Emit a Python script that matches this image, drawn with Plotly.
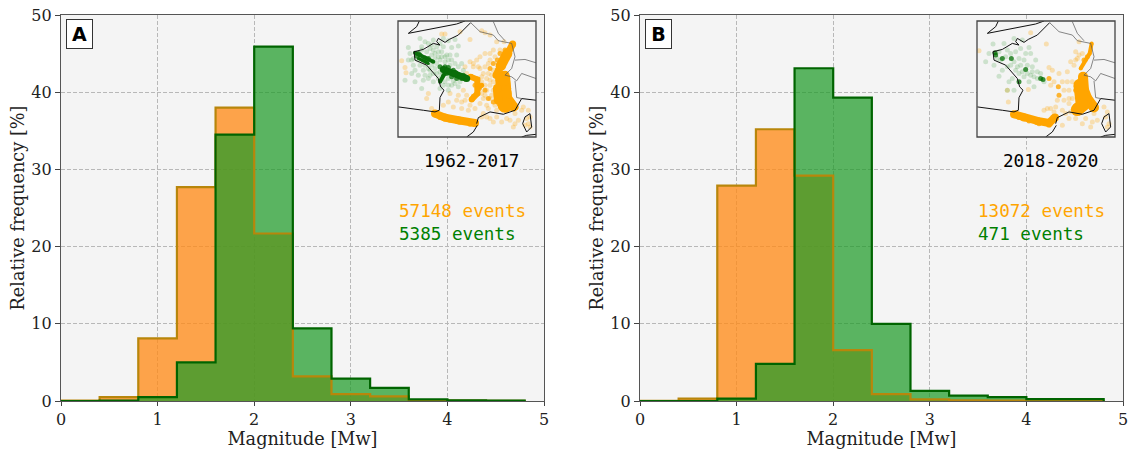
import plotly.graph_objects as go

W, H = 1130, 451
bin_edges = [0, 0.4, 0.8, 1.2, 1.6, 2.0, 2.4, 2.8, 3.2, 3.6, 4.0, 4.4, 4.8]
a_orange = [0.05, 0.5, 8.1, 27.7, 38.0, 21.7, 3.2, 0.9, 0.6, 0.1, 0.05, 0.02]
a_green = [0.0, 0.05, 0.5, 5.0, 34.5, 45.9, 9.4, 2.9, 1.7, 0.2, 0.1, 0.05]
b_orange = [0.02, 0.3, 27.9, 35.2, 29.2, 6.6, 0.9, 0.2, 0.1, 0.05, 0.02, 0.01]
b_green = [0.0, 0.0, 0.3, 4.8, 43.1, 39.3, 10.0, 1.3, 0.7, 0.5, 0.25, 0.25]
x_ticks = [0, 1, 2, 3, 4, 5]
y_ticks = [0, 10, 20, 30, 40, 50]
panel_labels = ["A", "B"]
periods = ["1962-2017", "2018-2020"]
orange_counts = ["57148 events", "13072 events"]
green_counts = ["5385 events", "471 events"]

coast = [
    [(88, 33), (80, 50), (55, 70), (75, 66), (110, 58), (150, 50), (200, 42), (225, 33)],
    [(242, 38), (218, 60), (205, 75), (178, 88), (165, 97), (145, 85), (140, 95), (150, 105), (130, 100),
     (100, 118), (72, 125), (75, 150), (110, 165), (145, 205), (152, 230), (162, 240), (150, 262), (148, 300), (135, 305),
     (100, 300), (60, 295), (25, 290)],
    [(260, 340), (265, 322), (300, 305), (340, 312), (375, 300), (395, 265), (438, 270)],
    [(262, 345), (250, 365), (230, 380)],
    [(405, 320), (420, 310), (425, 350), (410, 365), (398, 340), (405, 320)],
    [(395, 380), (410, 375), (438, 372)],
]
borders = [
    [(242, 38), (270, 65), (310, 75), (325, 92), (365, 100), (375, 140), (365, 175), (345, 195)],
    [(375, 150), (405, 148), (438, 158)],
    [(345, 195), (365, 200), (380, 212), (395, 190), (438, 205)],
    [(310, 35), (325, 70), (345, 92)],
    [(375, 212), (380, 262), (395, 265)],
]
# thick bands of overlapping epicentres: (width, points)
a_bands = [
    (8, [(135,310),(165,322),(205,330),(255,338)]),
    (9, [(345,195),(350,235),(352,262),(372,290)]),
    (15, [(338,205),(342,250),(345,285)]),
    (9, [(322,235),(325,270)]),
    (7, [(368,102),(355,125),(340,150),(325,180),(318,195)]),
    (10, [(352,130),(332,168)]),
    (6, [(242,200),(262,208),(262,250),(245,268)]),
    (5, [(275,225),(262,235)]),
]
b_bands = [
    (8, [(135,312),(165,322),(205,332),(240,338),(258,322)]),
    (10, [(342,200),(345,240),(355,265),(375,292)]),
    (13, [(333,225),(340,285),(325,298)]),
    (4, [(368,100),(362,130),(350,150),(335,175)]),
]
a_green_bands = [
    (4, [(75,128),(105,142),(130,155)]),
    (3, [(85,145),(115,160)]),
    (7, [(160,178),(195,190),(230,205)]),
    (4, [(150,215),(160,195),(170,180)]),
]
b_green_bands = []
a_orange_dense = [(150,322),(180,330),(210,336),(240,342),(360,285),(378,292),(365,295),(350,300),(320,200),(332,230),(325,262),(335,275),(300,175),(310,160),(322,150),(255,225),(268,235),(250,258),(285,240),(295,265),(310,275),(330,130),(345,120)]
a_orange_light = [(35,152),(45,172),(48,188),(155,72),(165,72),(210,65),(240,88),(275,62),(285,68),(300,75),(320,95),(342,95),(285,130),(310,120),(330,120),(240,155),(250,160),(260,150),(285,170),(270,175),(300,150),(295,190),(300,210),(290,240),(310,240),(300,265),(280,265),(290,285),(315,285),(220,240),(225,270),(205,255),(180,250),(175,275),(190,290),(215,295),(235,300),(255,295),(115,250),(110,265),(125,295),(160,285),(280,310),(300,325),(320,320),(350,325),(375,310),(385,330),(370,350),(400,290),(415,300),(415,340),(420,350),(410,325),(275,200),(310,215),(270,280),(250,170),(280,190),(290,205),(305,195),(275,215),(285,225),(300,225),(320,225),(305,255),(285,255),(275,250),(295,295),(320,300),(240,285),(230,255),(215,275),(200,270),(275,320),(290,320),(310,335),(335,335),(360,330),(375,340),(395,300),(420,320),(405,345),(265,170),(300,130),(315,140),(270,140),(225,170),(230,190),(295,160),(310,180)]
a_green_dense = [(85,130),(80,138),(90,135),(115,145),(100,150),(110,155),(150,170),(170,190),(205,195),(220,195),(190,180),(175,172),(215,205),(225,200),(165,170),(200,205),(185,200)]
a_green_light = [(90,85),(105,95),(130,90),(160,85),(175,92),(195,88),(185,112),(205,108),(55,112),(60,130),(55,150),(70,165),(45,210),(75,215),(95,235),(120,180),(100,180),(115,205),(135,130),(155,125),(170,135),(185,150),(200,135),(215,160),(165,155),(140,190),(130,215),(160,225),(185,225),(205,230),(175,205),(190,212),(145,140),(120,115),(140,110),(85,195),(90,165),(110,125),(150,150),(175,240),(65,190),(125,165),(95,110),(115,100),(150,100),(160,110),(125,135),(140,160),(155,195),(135,175),(105,195),(120,195),(165,215),(195,160),(180,165),(105,165),(85,150),(70,145),(150,235),(210,215),(165,140),(130,120),(135,145),(145,125),(155,140),(180,135),(175,150),(150,185),(130,190),(115,175),(100,210),(145,205),(175,225),(195,220),(220,180),(205,170),(75,180),(65,150),(95,120),(125,105)]
b_orange_dense = [(150,322),(180,332),(210,340),(240,345),(345,285),(378,292),(325,295),(240,205),(268,230),(270,255),(345,150),(355,140),(320,240),(330,215)]
b_orange_light = [(30,122),(185,68),(232,102),(330,95),(320,125),(305,155),(330,135),(240,172),(270,190),(295,185),(320,150),(310,215),(285,240),(300,265),(265,270),(245,295),(255,305),(178,238),(115,240),(118,275),(290,310),(300,325),(320,325),(350,325),(375,310),(385,330),(370,335),(405,290),(415,305),(420,340),(415,350),(280,345),(300,280),(235,295),(340,130),(325,145),(315,165),(250,180),(255,215),(280,215),(300,240),(285,270),(310,265),(260,290),(280,300),(305,305),(225,300),(250,320),(340,340),(365,350),(410,320),(245,225),(295,215)]
b_green_dense = [(78,128),(100,145),(127,145),(170,178),(215,205),(150,215),(80,135),(222,208)]
b_green_light = [(72,102),(105,100),(135,85),(160,90),(180,112),(185,130),(170,130),(140,125),(115,120),(90,125),(60,130),(50,155),(75,165),(90,198),(115,170),(100,180),(125,165),(140,180),(155,165),(190,185),(205,185),(200,150),(120,215),(135,240),(115,240),(180,215),(195,230),(165,200),(185,195),(150,190),(130,205),(215,190),(225,215),(190,170),(85,145),(95,150),(110,140),(135,155),(150,145),(165,150),(175,165),(145,170),(160,185),(175,190),(205,205),(195,200),(125,130),(155,115)]

panels = [
    dict(x0=61, label=panel_labels[0], period=periods[0], oc=orange_counts[0], gc=green_counts[0],
         orange=a_orange, green=a_green, od=a_orange_dense, ol=a_orange_light, gd=a_green_dense, gl=a_green_light,
         bands=a_bands, gbands=a_green_bands),
    dict(x0=640, label=panel_labels[1], period=periods[1], oc=orange_counts[1], gc=green_counts[1],
         orange=b_orange, green=b_green, od=b_orange_dense, ol=b_orange_light, gd=b_green_dense, gl=b_green_light,
         bands=b_bands, gbands=b_green_bands),
]

fig = go.Figure()
layout = dict(
    width=W, height=H, margin=dict(l=0, r=0, t=0, b=0), autosize=False, showlegend=False,
    paper_bgcolor="white", plot_bgcolor="#f4f4f4", font=dict(family="DejaVu Serif", color="#222", size=16),
    shapes=[], annotations=[],
)
MONO = "DejaVu Sans Mono"


def px(x):
    return x / W


def py(y):
    return 1 - y / H


for i, p in enumerate(panels):
    n = 2 * i + 1
    m = 2 * i + 2
    xa, ya = (f"x{n}" if n > 1 else "x"), (f"y{n}" if n > 1 else "y")
    xb, yb = f"x{m}", f"y{m}"
    for vals, fill in [(p["orange"], "rgba(255,140,25,0.78)"), (p["green"], "rgba(30,155,40,0.72)")]:
        fig.add_trace(go.Scatter(x=bin_edges, y=vals + [0], mode="none", line=dict(shape="hv"),
                                 fill="tozeroy", fillcolor=fill, xaxis=xa, yaxis=ya, hoverinfo="skip"))
    for vals, edge in [(p["orange"], "#b8860b"), (p["green"], "#006400")]:
        fig.add_trace(go.Scatter(x=[0] + bin_edges, y=[0] + vals + [0], mode="lines",
                                 line=dict(shape="hv", color=edge, width=2.2), xaxis=xa, yaxis=ya, hoverinfo="skip"))
    layout[f"xaxis{n if n > 1 else ''}"] = dict(
        domain=[px(p["x0"]), px(p["x0"] + 483)], range=[0, 5], tickvals=x_ticks, anchor=ya, automargin=False,
        showline=True, linecolor="#555", linewidth=1.3, mirror=True, ticks="outside", ticklen=4, tickcolor="#444",
        showgrid=True, gridcolor="#b8b8b8", griddash="4px,2px", gridwidth=1, zeroline=False,
        title=dict(text="Magnitude [Mw]", font=dict(size=17.7), standoff=3), tickfont=dict(size=16))
    layout[f"yaxis{n if n > 1 else ''}"] = dict(
        domain=[py(401), py(15)], range=[0, 50], tickvals=y_ticks, anchor=xa, automargin=False,
        showline=True, linecolor="#555", linewidth=1.3, mirror=True, ticks="outside", ticklen=5, tickcolor="#444",
        showgrid=True, gridcolor="#b8b8b8", griddash="4px,2px", gridwidth=1, zeroline=False,
        title=dict(text="Relative frequency [%]", font=dict(size=17.7), standoff=2), tickfont=dict(size=16))
    ix0 = p["x0"] + 337
    layout[f"xaxis{m}"] = dict(domain=[px(ix0), px(ix0 + 138)], range=[24, 438], anchor=yb, visible=False)
    layout[f"yaxis{m}"] = dict(domain=[py(137), py(21)], range=[380, 33], anchor=xb, visible=False)
    layout["shapes"].append(dict(type="rect", xref=f"{xb} domain", yref=f"{yb} domain", x0=0, x1=1, y0=0, y1=1,
                                 fillcolor="white", line=dict(width=0), layer="below"))
    for pts, col, size in [(p["ol"], "rgba(255,165,0,0.28)", 5), (p["od"], "rgba(255,165,0,0.8)", 5)]:
        fig.add_trace(go.Scatter(x=[q[0] for q in pts], y=[q[1] for q in pts], mode="markers",
                                 marker=dict(size=size, color=col, line=dict(width=0)), xaxis=xb, yaxis=yb, hoverinfo="skip"))
    for width, seg in p["bands"]:
        fig.add_trace(go.Scatter(x=[q[0] for q in seg], y=[q[1] for q in seg], mode="lines+markers",
                                 line=dict(color="orange", width=width), marker=dict(size=width, color="orange"),
                                 xaxis=xb, yaxis=yb, hoverinfo="skip"))
    for pts, col, size in [(p["gl"], "rgba(0,128,0,0.16)", 5), (p["gd"], "rgba(0,110,0,0.75)", 5)]:
        fig.add_trace(go.Scatter(x=[q[0] for q in pts], y=[q[1] for q in pts], mode="markers",
                                 marker=dict(size=size, color=col, line=dict(width=0)), xaxis=xb, yaxis=yb, hoverinfo="skip"))
    for width, seg in p["gbands"]:
        fig.add_trace(go.Scatter(x=[q[0] for q in seg], y=[q[1] for q in seg], mode="lines+markers",
                                 line=dict(color="#0a6e0a", width=width), marker=dict(size=width, color="#0a6e0a"),
                                 xaxis=xb, yaxis=yb, hoverinfo="skip"))
    for group, col, w in [(coast, "#111", 1.0), (borders, "#555", 0.7)]:
        for seg in group:
            fig.add_trace(go.Scatter(x=[q[0] for q in seg], y=[q[1] for q in seg], mode="lines",
                                     line=dict(color=col, width=w), xaxis=xb, yaxis=yb, hoverinfo="skip"))
    layout["shapes"].append(dict(type="rect", xref=f"{xb} domain", yref=f"{yb} domain", x0=0, x1=1, y0=0, y1=1,
                                 line=dict(color="#444", width=1.3), layer="above"))
    left = p["x0"] + 336
    layout["annotations"] += [
        dict(text=f"<b>{p['label']}</b>", xref="paper", yref="paper", x=px(p["x0"] + 18.5), y=py(34), showarrow=False,
             font=dict(family="DejaVu Sans", size=19, color="black"), bgcolor="white", bordercolor="#333", borderwidth=1,
             borderpad=3, width=19, height=22, xanchor="center", yanchor="middle"),
        dict(text=p["period"], xref="paper", yref="paper", x=px(p["x0"] + 410), y=py(161), showarrow=False,
             font=dict(family=MONO, size=17.6, color="black"), bgcolor="#f4f4f4", xanchor="center", yanchor="middle"),
        dict(text=p["oc"], xref="paper", yref="paper", x=px(left), y=py(211), showarrow=False,
             font=dict(family=MONO, size=17.6, color="orange"), xanchor="left", yanchor="middle"),
        dict(text=p["gc"], xref="paper", yref="paper", x=px(left), y=py(234), showarrow=False,
             font=dict(family=MONO, size=17.6, color="green"), xanchor="left", yanchor="middle"),
    ]

fig.update_layout(**layout)
fig.write_html("out.html", config=dict(displayModeBar=False),
               post_script="document.body.style.margin='0';document.body.style.overflow='hidden';")
